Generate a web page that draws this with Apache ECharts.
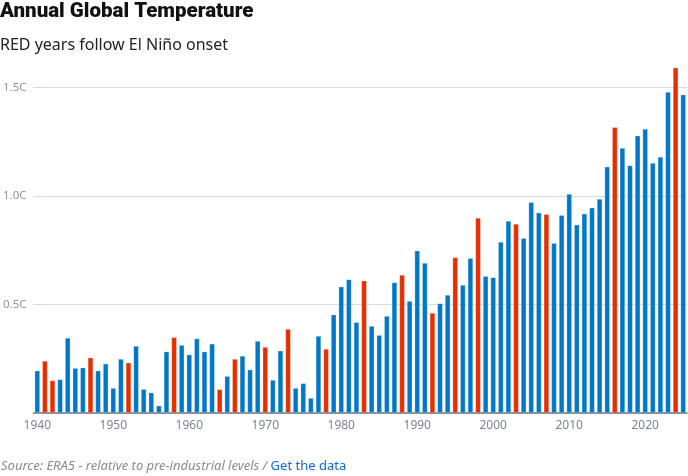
<!DOCTYPE html>
<html><head><meta charset="utf-8">
<script src="https://cdn.jsdelivr.net/npm/echarts@6/dist/echarts.min.js"></script>
<style>html,body{margin:0;padding:0;background:#fff}#c{width:688px;height:476px}</style>
</head><body><div id="c"></div>
<script>
const years = [];
for (let y = 1940; y <= 2025; y++) years.push(String(y));
const anomalies = [
 0.195,0.24,0.15,0.155,0.346,0.207,0.209,0.255,0.195,0.227,
 0.115,0.249,0.232,0.309,0.11,0.094,0.034,0.283,0.349,0.313,
 0.269,0.343,0.283,0.319,0.109,0.17,0.249,0.263,0.2,0.332,
 0.304,0.152,0.287,0.387,0.115,0.137,0.069,0.355,0.295,0.453,
 0.582,0.616,0.418,0.61,0.401,0.359,0.447,0.602,0.636,0.516,
 0.748,0.691,0.461,0.505,0.544,0.717,0.59,0.713,0.899,0.63,
 0.625,0.788,0.885,0.871,0.806,0.972,0.923,0.916,0.783,0.912,
 1.009,0.868,0.918,0.946,0.986,1.135,1.317,1.221,1.141,1.278,
 1.309,1.152,1.18,1.479,1.591,1.467
];
const elNinoYears = ['1941','1942','1947','1952','1958','1964','1966','1970','1973','1978','1983','1988','1992','1995','1998','2003','2007','2016','2024'];
const yTicks = [0.5, 1.0, 1.5];

const BLUE = '#0077c8', RED = '#e62e00';
const chart = echarts.init(document.getElementById('c'), null, {renderer:'canvas'});
chart.setOption({
  animation: false,
  graphic: [
    {type:'text', left:0, top:1, style:{text:'Annual Global Temperature', font:'900 20.5px Roboto, "Noto Sans", sans-serif', fill:'#111'}},
    {type:'text', left:0, top:37, style:{text:'RED years follow El Niño onset', font:'16px "Noto Sans", Roboto, sans-serif', fill:'#222'}},
    {type:'text', left:1, top:460, style:{
      text:'{s|Source: ERA5 - relative to pre-industrial levels / }{l|Get the data}',
      rich:{
        s:{font:'italic 13px "Noto Sans", Roboto, sans-serif', fill:'#8a8a8a'},
        l:{font:'13px "Noto Sans", Roboto, sans-serif', fill:'#1466d6'}
      }}}
  ],
  grid: {left:33, right:1, top:87.5, bottom:63, containLabel:false},
  xAxis: {
    type:'category', data: years,
    axisTick:{show:false},
    axisLine:{lineStyle:{color:'#6b7385', width:1.5}},
    axisLabel:{
      interval: (i, v) => Number(v) % 10 === 0,
      color:'#7b8496', fontSize:12, margin:7, fontFamily:'"Noto Sans", sans-serif'
    }
  },
  yAxis: {
    type:'value', min:0, max:1.5, interval:0.5,
    axisLine:{show:false}, axisTick:{show:false},
    splitLine:{lineStyle:{color:'#d5dbe3', width:1}},
    axisLabel:{
      color:'#8a93a6', fontSize:11.5, margin:7, fontFamily:'"Noto Sans", sans-serif',
      formatter: v => yTicks.some(t => Math.abs(t - v) < 1e-9) ? v.toFixed(1) + 'C' : ''
    }
  },
  series: [{
    type:'bar', clip:false, barWidth:'70%',
    data: anomalies.map((v, i) => ({
      value: v,
      itemStyle: {color: elNinoYears.includes(years[i]) ? RED : BLUE}
    })),
    itemStyle:{borderColor:'rgba(255,255,255,0.45)', borderWidth:0.6}
  }]
});
</script></body></html>
